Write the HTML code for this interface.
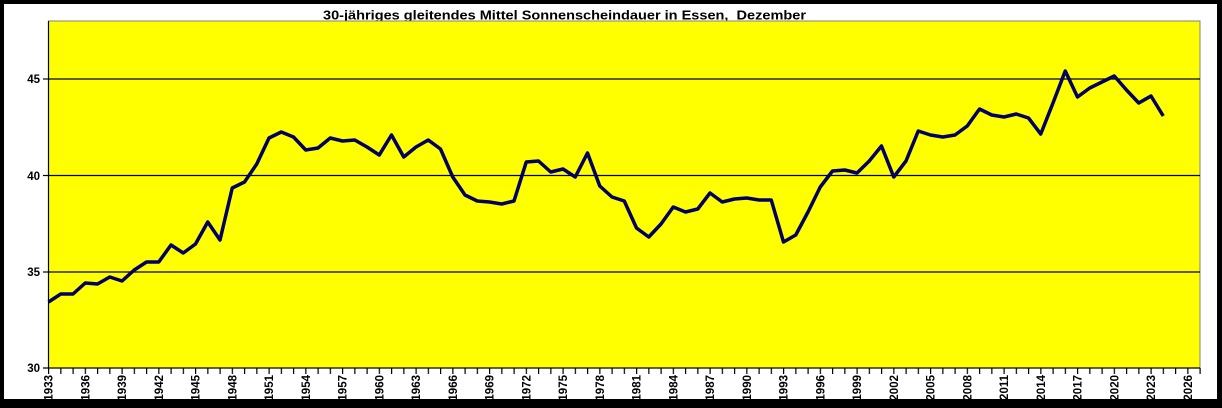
<!DOCTYPE html>
<html><head><meta charset="utf-8"><style>
html,body{margin:0;padding:0;background:#000;}
svg{display:block;}
</style></head><body>
<svg width="1222" height="408" xmlns="http://www.w3.org/2000/svg" font-family="Liberation Sans, Arial, sans-serif">
<defs>
<pattern id="tk" patternUnits="userSpaceOnUse" x="48" y="0" width="12.25" height="10">
<rect x="0" y="0" width="1.2" height="10" fill="#000"/>
</pattern>
</defs>
<rect x="0" y="0" width="1222" height="408" fill="#000"/>
<rect x="4" y="4" width="1213" height="395" fill="#fff"/>
<text x="323" y="19.5" font-size="13" font-weight="bold" textLength="483" lengthAdjust="spacingAndGlyphs">30-jähriges gleitendes Mittel Sonnenscheindauer in Essen,&#160; Dezember</text>
<rect x="48.5" y="21" width="1151.5" height="347" fill="#ffff00" stroke="#808080" stroke-width="1"/>
<g stroke="#000" stroke-width="1.2">
<line x1="48.5" y1="79" x2="1200" y2="79"/>
<line x1="48.5" y1="175.5" x2="1200" y2="175.5"/>
<line x1="48.5" y1="272" x2="1200" y2="272"/>
<line x1="48.5" y1="21" x2="48.5" y2="368"/>
<line x1="43" y1="368" x2="1200" y2="368"/>
<line x1="43" y1="79" x2="48.5" y2="79"/>
<line x1="43" y1="175.5" x2="48.5" y2="175.5"/>
<line x1="43" y1="272" x2="48.5" y2="272"/>
</g>
<rect x="48" y="368" width="1153" height="6" fill="url(#tk)"/>
<g font-size="11.5" font-weight="bold" text-anchor="end">
<text x="40" y="83">45</text>
<text x="40" y="180">40</text>
<text x="40" y="276">35</text>
<text x="40" y="372">30</text>
</g>
<g font-size="11.5" font-weight="bold" text-anchor="end">
<text transform="translate(52.5,375) rotate(-90)">1933</text>
<text transform="translate(89.25,375) rotate(-90)">1936</text>
<text transform="translate(126,375) rotate(-90)">1939</text>
<text transform="translate(162.75,375) rotate(-90)">1942</text>
<text transform="translate(199.5,375) rotate(-90)">1945</text>
<text transform="translate(236.25,375) rotate(-90)">1948</text>
<text transform="translate(273,375) rotate(-90)">1951</text>
<text transform="translate(309.75,375) rotate(-90)">1954</text>
<text transform="translate(346.5,375) rotate(-90)">1957</text>
<text transform="translate(383.25,375) rotate(-90)">1960</text>
<text transform="translate(420,375) rotate(-90)">1963</text>
<text transform="translate(456.75,375) rotate(-90)">1966</text>
<text transform="translate(493.5,375) rotate(-90)">1969</text>
<text transform="translate(530.25,375) rotate(-90)">1972</text>
<text transform="translate(567,375) rotate(-90)">1975</text>
<text transform="translate(603.75,375) rotate(-90)">1978</text>
<text transform="translate(640.5,375) rotate(-90)">1981</text>
<text transform="translate(677.25,375) rotate(-90)">1984</text>
<text transform="translate(714,375) rotate(-90)">1987</text>
<text transform="translate(750.75,375) rotate(-90)">1990</text>
<text transform="translate(787.5,375) rotate(-90)">1993</text>
<text transform="translate(824.25,375) rotate(-90)">1996</text>
<text transform="translate(861,375) rotate(-90)">1999</text>
<text transform="translate(897.75,375) rotate(-90)">2002</text>
<text transform="translate(934.5,375) rotate(-90)">2005</text>
<text transform="translate(971.25,375) rotate(-90)">2008</text>
<text transform="translate(1008,375) rotate(-90)">2011</text>
<text transform="translate(1044.75,375) rotate(-90)">2014</text>
<text transform="translate(1081.5,375) rotate(-90)">2017</text>
<text transform="translate(1118.25,375) rotate(-90)">2020</text>
<text transform="translate(1155,375) rotate(-90)">2023</text>
<text transform="translate(1191.75,375) rotate(-90)">2026</text>
</g>
<g transform="translate(48.5,0) scale(12.25,1)">
<polyline fill="none" stroke="#000066" stroke-width="3.5" stroke-linejoin="round" vector-effect="non-scaling-stroke" points="0,302 1,294 2,294 3,283 4,284 5,277 6,281 7,270 8,262 9,262 10,245 11,253 12,244 13,222 14,240 15,188 16,182 17,164 18,138 19,132 20,137 21,150 22,148 23,138 24,141 25,140 26,147 27,155 28,135 29,157 30,147 31,140 32,149 33,177 34,195 35,201 36,202 37,204 38,201 39,162 40,161 41,172 42,169 43,177 44,153 45,186 46,197 47,201 48,228 49,237 50,224 51,207 52,212 53,209 54,193 55,202 56,199 57,198 58,200 59,200 60,242 61,235 62,212 63,187 64,171 65,170 66,173 67,161 68,146 69,177 70,161 71,131 72,135 73,137 74,135 75,126 76,109 77,115 78,117 79,114 80,118 81,134 82,103 83,71 84,97 85,88 86,82 87,76 88,90 89,103 90,96 91,116"/>
</g>
</svg>
</body></html>
